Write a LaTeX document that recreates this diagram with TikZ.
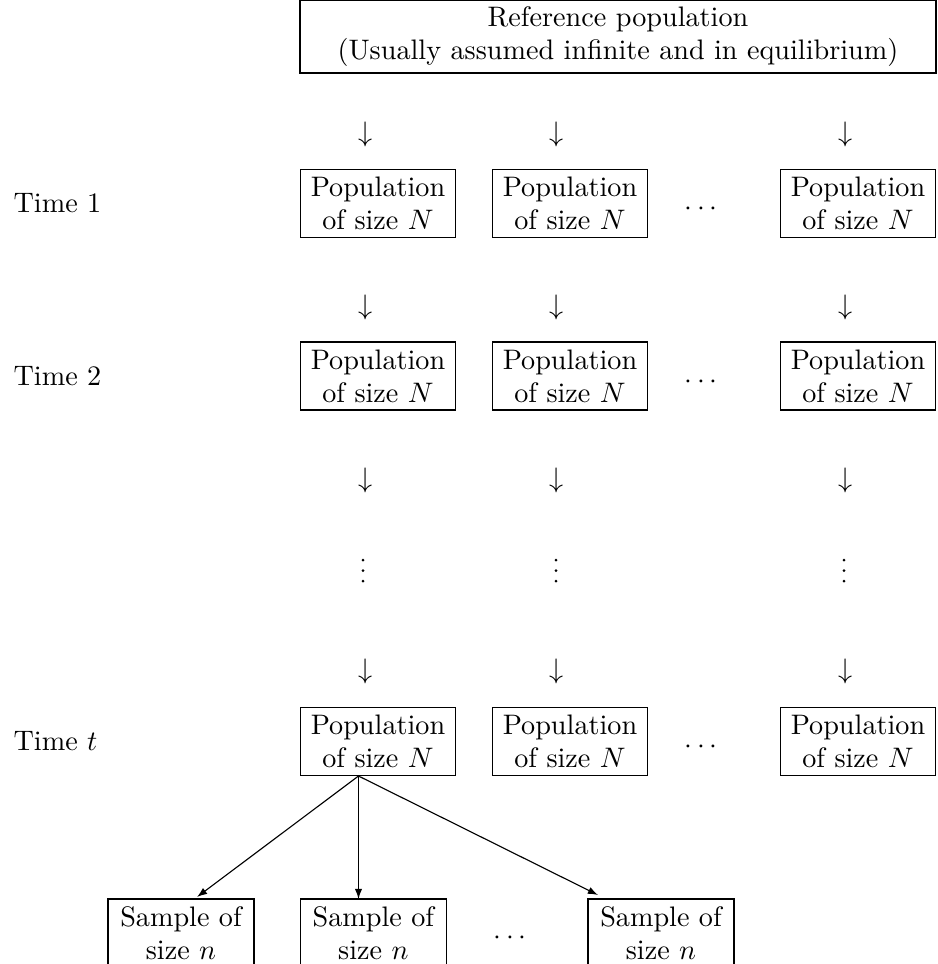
\documentclass[tikz,border=0pt]{standalone}
\usetikzlibrary{arrows.meta}
\begin{document}
\begin{tikzpicture}[x=0.3546pt,y=-0.3546pt,
  txt/.style={font=\fontsize{10}{11.6}\selectfont, inner sep=0pt},
  box/.style={txt, draw, line width=0.4pt, align=center},
  popbox/.style={box, minimum width=54.96pt, minimum height=24.11pt},
  sampbox/.style={box, minimum width=51.77pt, minimum height=24.11pt},
  refbox/.style={box, minimum width=225.5pt, minimum height=25.9pt},
  darr/.style={txt},
  vdot/.style={fill=black, draw=none},
  fan/.style={line width=0.4pt, -{Latex[length=3.6pt,width=2.6pt]}}]
\useasboundingbox (0,0) rectangle (938,964);

% reference population
\node[refbox] (ref) at (618,36.5) {Reference population\\(Usually assumed infinite and in equilibrium)};

% down arrows (glyphs)
\foreach \r/\y in {1/134,2/307,3/480,4/671}{
  \node[darr] (a\r c1) at (366,\y) {$\downarrow$};
  \node[darr] (a\r c2) at (557,\y) {$\downarrow$};
  \node[darr] (a\r c4) at (846,\y) {$\downarrow$};
}
% vertical dots
\foreach \x in {363,556,844}{
  \foreach \y in {560,570.5,581}{
    \fill[vdot] (\x,\y) circle[radius=1.5];
  }
}

% rows
\foreach \r/\y/\lab in {1/203.5/{Time 1},2/376/{Time 2},t/741.5/{Time $t$}}{
  \node[txt, anchor=base west] (time\r) at (13,\y+9) {\lab};
  \node[popbox] (p\r c1) at (378,\y) {Population\\of size $N$};
  \node[popbox] (p\r c2) at (570,\y) {Population\\of size $N$};
  \node[txt] (d\r) at (701,\y+6) {$\cdots$};
  \node[popbox] (p\r c4) at (858,\y) {Population\\of size $N$};
}

% samples
\node[sampbox] (s1) at (181,933) {Sample of\\size $n$};
\node[sampbox] (s2) at (373.4,933) {Sample of\\size $n$};
\node[txt] (sd) at (510,938) {$\cdots$};
\node[sampbox] (s3) at (661,933) {Sample of\\size $n$};

\coordinate (o) at (358.5,776);
\coordinate (e1) at (197,897);
\coordinate (e2) at (358.5,899);
\coordinate (e3) at (598,895);
\draw[fan] (o) -- (e1);
\draw[fan] (o) -- (e2);
\draw[fan] (o) -- (e3);
\end{tikzpicture}
\end{document}
